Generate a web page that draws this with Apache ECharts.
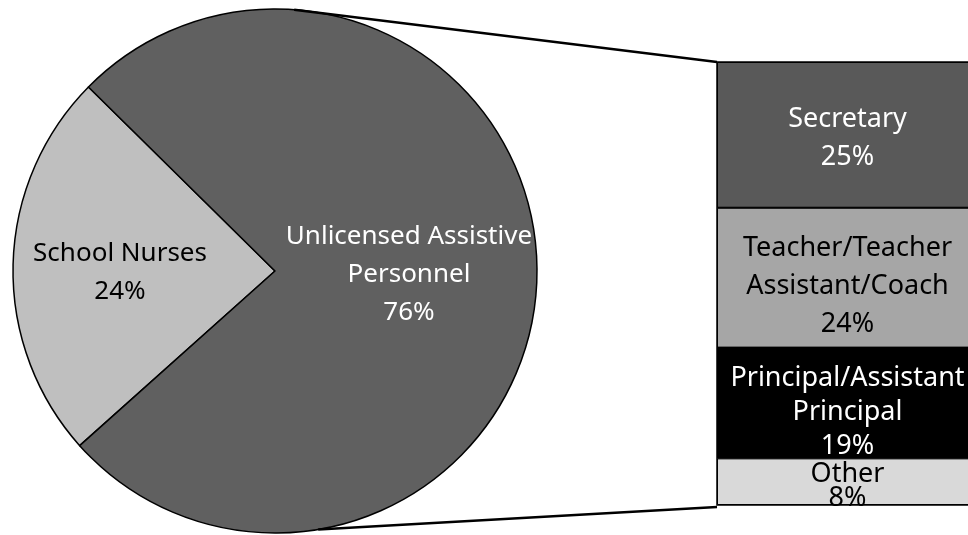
<!DOCTYPE html>
<html>
<head>
<meta charset="utf-8">
<script src="https://cdn.jsdelivr.net/npm/echarts@6/dist/echarts.min.js"></script>
<style>html,body{margin:0;padding:0;background:#fff}#c{width:968px;height:535px}</style>
</head>
<body>
<div id="c"></div>
<script>
// Pie data
var pieNames = ['School Nurses', 'Unlicensed Assistive\nPersonnel'];
var pieValues = [24, 76];
// Breakdown bar data (share of the 76%)
var barNames = ['Secretary', 'Teacher/Teacher\nAssistant/Coach', 'Principal/Assistant\nPrincipal', 'Other'];
var barValues = [25, 24, 19, 8];

var FONT = '"Noto Sans", Lato, sans-serif';
var pieColors = ['#bfbfbf', '#606060'];
var pieText = ['#000', '#fff'];
var barColors = ['#595959', '#a6a6a6', '#000000', '#d9d9d9'];
var barText = ['#fff', '#000', '#fff', '#000'];
var barShift = [3, 9, 9, 5];
var barLH = [38, 38, 34, 24];

var PIE_CX = 275, PIE_CY = 271, PIE_R = 262;
var chart = echarts.init(document.getElementById('c'));

var barSeries = barNames.map(function (n, i) {
  return {
    type: 'bar', name: n, stack: 'all', barWidth: '100%',
    data: [barValues[i]],
    itemStyle: {color: barColors[i], borderColor: '#000', borderWidth: 1},
    label: {
      show: true, position: 'inside', offset: [0, barShift[i]],
      formatter: function () { return n + '\n' + barValues[i] + '%'; },
      color: barText[i], fontFamily: FONT, fontSize: 27, lineHeight: barLH[i]
    },
    silent: true
  };
});

chart.setOption({
  animation: false,
  backgroundColor: '#fff',
  grid: {left: 717, right: -10, top: 62, bottom: 30, outerBoundsMode: 'none', show: true, backgroundColor: '#000', borderColor: '#000', borderWidth: 1.5},
  xAxis: {type: 'category', data: ['UAP'], show: false},
  yAxis: {type: 'value', min: 0, max: 76, inverse: true, show: false},
  series: [{
    type: 'pie',
    center: [PIE_CX, PIE_CY],
    radius: [0, PIE_R],
    startAngle: 221.8,
    clockwise: true,
    silent: true,
    itemStyle: {borderColor: '#000', borderWidth: 1.5},
    label: {
      show: true, position: 'inside', fontFamily: FONT, fontSize: 26, lineHeight: 38,
      formatter: function (p) { return p.name + '\n' + p.value + '%'; }
    },
    labelLine: {show: false},
    data: pieNames.map(function (n, i) {
      return {
        name: n, value: pieValues[i],
        itemStyle: {color: pieColors[i]},
        label: {color: pieText[i], offset: i === 0 ? [0, 5] : [0, 0], padding: i === 0 ? [0, 42, 0, 0] : [0, 0, 0, 0]}
      };
    })
  }].concat(barSeries)
});

// Connector lines from pie edge to bar corners
var topCorner = chart.convertToPixel({gridIndex: 0}, [0, 0]);
var botCorner = chart.convertToPixel({gridIndex: 0}, [0, 76]);
var barLeft = 717;
function onCircle(deg) {
  var a = deg * Math.PI / 180;
  return [PIE_CX + PIE_R * Math.cos(a), PIE_CY - PIE_R * Math.sin(a)];
}
var pTop = onCircle(85.8), pBot = onCircle(-80.5);
chart.setOption({
  graphic: [
    {type: 'line', shape: {x1: pTop[0], y1: pTop[1], x2: barLeft, y2: topCorner[1]}, style: {stroke: '#000', lineWidth: 2.5}, z: 100},
    {type: 'line', shape: {x1: pBot[0], y1: pBot[1], x2: barLeft, y2: botCorner[1] + 2}, style: {stroke: '#000', lineWidth: 2.5}, z: 100}
  ]
});
</script>
</body>
</html>
